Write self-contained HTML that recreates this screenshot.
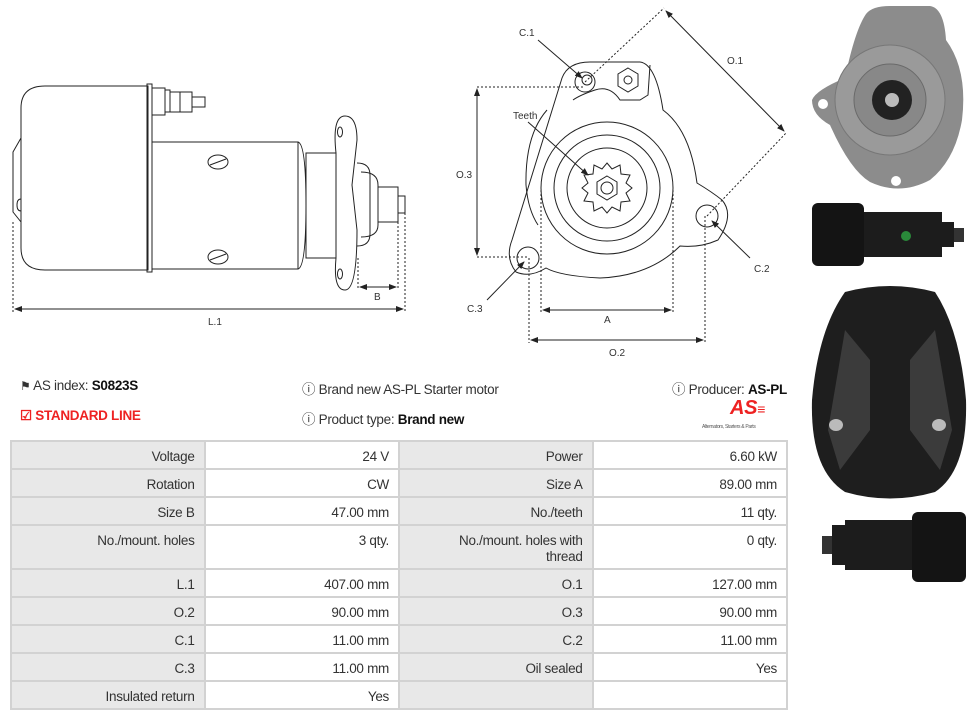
<!DOCTYPE html>
<html><head><meta charset="utf-8"><style>
*{margin:0;padding:0;box-sizing:border-box}
body{width:976px;height:720px;background:#fff;position:relative;overflow:hidden;font-family:"Liberation Sans",sans-serif;color:#333}
.t{position:absolute;font-size:13.5px;white-space:nowrap;letter-spacing:-0.3px}
b{color:#111}
table{position:absolute;left:10px;top:440px;width:778px;border-collapse:collapse;font-size:13.5px;letter-spacing:-0.3px}
td{border:2px solid #d2d2d2;text-align:right;vertical-align:top;padding:7px 9px 0 4px;height:28px;color:#333;line-height:16px}
td.l{background:#e8e8e8;width:194px}
td.v{background:#fff;width:195px}
tr.tall td{height:44px}
</style></head><body>
<svg width="976" height="720" style="position:absolute;left:0;top:0" font-family="Liberation Sans,sans-serif" font-size="10" fill="none" stroke="#222" stroke-width="1">
<defs><marker id="a" markerWidth="8" markerHeight="6" refX="7" refY="3" orient="auto"><path d="M0,0 L8,3 L0,6z" fill="#222" stroke="none"/></marker>
<marker id="s" markerWidth="8" markerHeight="6" refX="1" refY="3" orient="auto"><path d="M8,0 L0,3 L8,6z" fill="#222" stroke="none"/></marker></defs>
<path d="M13,152 L21,138 L21,108 Q21,86 45,86 L148,86 L148,270 L45,270 Q21,270 21,248 L21,222 L13,212 Z"/>
<line x1="21" y1="138" x2="21" y2="222"/>
<path d="M17,205 q0,-6 4,-6 v12 q-4,0 -4,-6z"/>
<rect x="147" y="84" width="5" height="188"/>
<path d="M152,88 h13 v27 h-13"/><rect x="165" y="90" width="5" height="22"/><rect x="170" y="92" width="10" height="20"/><rect x="180" y="92" width="12" height="20"/><path d="M192,97 h13 v10 h-13"/>
<rect x="152" y="142" width="146" height="127"/>
<path d="M298,142 q8,2 8,63 q0,62 -8,64"/>
<rect x="306" y="153" width="30" height="105"/>
<path d="M336,153 Q332,116 345,116 Q357,116 357,140 L352,185 L357,230 Q357,290 345,290 Q333,290 336,258"/>
<ellipse cx="340" cy="132" rx="2.5" ry="5"/><ellipse cx="340" cy="274" rx="2.5" ry="5"/>
<path d="M357,163 Q370,163 370,175 L370,234 Q370,246 357,246"/>
<path d="M361,172 Q378,172 378,185 L378,225 Q378,237 361,237"/>
<rect x="378" y="187" width="20" height="35"/><rect x="398" y="196" width="7" height="17"/>
<ellipse cx="218" cy="162" rx="10" ry="7"/><line x1="210" y1="165" x2="226" y2="159"/>
<ellipse cx="218" cy="257" rx="10" ry="7"/><line x1="210" y1="260" x2="226" y2="254"/>
<g stroke-dasharray="2,2"><line x1="13" y1="222" x2="13" y2="312"/><line x1="405" y1="213" x2="405" y2="312"/><line x1="358" y1="258" x2="358" y2="290"/><line x1="398" y1="222" x2="398" y2="290"/></g>
<line x1="15" y1="309" x2="403" y2="309" marker-start="url(#s)" marker-end="url(#a)"/>
<line x1="360" y1="287" x2="396" y2="287" marker-start="url(#s)" marker-end="url(#a)"/>
<g fill="#333" stroke="none"><text x="374" y="300">B</text><text x="208" y="325">L.1</text></g>
<path d="M512,240 L562,78 Q568,62 590,62 L640,62 Q656,64 663,110 Q690,130 697,183 Q712,192 722,200 Q735,215 718,240 Q700,248 680,246 Q650,276 600,278 Q560,276 546,268 Q530,278 516,272 Q505,258 512,240 Z"/>
<path d="M547,110 Q525,135 526,185 Q528,210 538,225"/>
<path d="M573,100 Q580,95 595,90 Q610,85 620,100 L640,100 L648,95 L650,65"/>
<circle cx="585" cy="82" r="10"/><circle cx="587" cy="80" r="5"/>
<polygon points="628,68 638,74 638,86 628,92 618,86 618,74"/><circle cx="628" cy="80" r="4"/>
<circle cx="707" cy="216" r="11"/><circle cx="528" cy="258" r="11"/>
<circle cx="607" cy="188" r="66"/><circle cx="607" cy="188" r="53"/><circle cx="607" cy="188" r="40"/>
<path d="M607,163 l5,6 8,-4 1,9 9,1 -4,8 6,5 -6,5 4,8 -9,1 -1,9 -8,-4 -5,6 -5,-6 -8,4 -1,-9 -9,-1 4,-8 -6,-5 6,-5 -4,-8 9,-1 1,-9 8,4z"/>
<polygon points="607,176 617,182 617,194 607,200 597,194 597,182"/><circle cx="607" cy="188" r="6"/>
<g stroke-dasharray="2,2"><line x1="477" y1="87" x2="585" y2="87"/><line x1="477" y1="257" x2="528" y2="257"/>
<line x1="585" y1="82" x2="664" y2="8"/><line x1="707" y1="216" x2="787" y2="132"/>
<line x1="541" y1="190" x2="541" y2="312"/><line x1="673" y1="190" x2="673" y2="312"/>
<line x1="529" y1="258" x2="529" y2="343"/><line x1="705" y1="216" x2="705" y2="343"/></g>
<line x1="477" y1="89" x2="477" y2="255" marker-start="url(#s)" marker-end="url(#a)"/>
<line x1="666" y1="11" x2="784" y2="131" marker-start="url(#s)" marker-end="url(#a)"/>
<line x1="543" y1="310" x2="671" y2="310" marker-start="url(#s)" marker-end="url(#a)"/>
<line x1="531" y1="340" x2="703" y2="340" marker-start="url(#s)" marker-end="url(#a)"/>
<line x1="538" y1="40" x2="582" y2="78" marker-end="url(#a)"/>
<line x1="528" y1="122" x2="588" y2="175" marker-end="url(#a)"/>
<line x1="750" y1="258" x2="712" y2="221" marker-end="url(#a)"/>
<line x1="487" y1="300" x2="524" y2="262" marker-end="url(#a)"/>
<g fill="#333" stroke="none"><text x="519" y="36">C.1</text><text x="513" y="119">Teeth</text><text x="727" y="64">O.1</text><text x="456" y="178">O.3</text><text x="754" y="272">C.2</text><text x="467" y="312">C.3</text><text x="604" y="323">A</text><text x="609" y="356">O.2</text></g>
<path d="M866,14 Q872,6 890,6 L930,6 Q944,8 946,40 Q968,70 962,120 Q955,160 930,180 Q900,196 870,182 Q850,170 830,125 Q812,115 812,100 Q816,90 845,78 Q855,30 866,14z" fill="#8c8c8c" stroke="none"/>
<circle cx="890" cy="100" r="55" fill="#9a9a9a" stroke="#777"/><circle cx="890" cy="100" r="36" fill="#888" stroke="#6a6a6a"/>
<circle cx="892" cy="100" r="20" fill="#222" stroke="none"/><circle cx="892" cy="100" r="7" fill="#bbb" stroke="none"/>
<circle cx="823" cy="104" r="5" fill="#fff" stroke="none"/><circle cx="896" cy="181" r="5" fill="#fff" stroke="none"/>
<rect x="812" y="203" width="52" height="63" rx="6" fill="#141414" stroke="none"/>
<rect x="864" y="212" width="78" height="45" fill="#1c1c1c" stroke="none"/>
<rect x="942" y="222" width="12" height="25" fill="#1c1c1c" stroke="none"/><rect x="954" y="228" width="10" height="14" fill="#333" stroke="none"/>
<circle cx="906" cy="236" r="5" fill="#2a8a3a" stroke="none"/>
<path d="M845,292 Q890,280 935,292 Q960,330 966,400 Q968,470 935,492 Q890,505 845,492 Q810,470 812,400 Q818,330 845,292z" fill="#1e1e1e" stroke="none"/>
<path d="M845,330 L870,360 L870,430 L840,470 L828,430 Z M935,330 L910,360 L910,430 L940,470 L952,430 Z" fill="#3b3b3b" stroke="none"/>
<ellipse cx="836" cy="425" rx="7" ry="6" fill="#bbb" stroke="none"/><ellipse cx="939" cy="425" rx="7" ry="6" fill="#bbb" stroke="none"/>
<rect x="912" y="512" width="54" height="70" rx="6" fill="#141414" stroke="none"/>
<rect x="845" y="520" width="67" height="50" fill="#1c1c1c" stroke="none"/>
<rect x="832" y="525" width="13" height="40" fill="#1c1c1c" stroke="none"/><rect x="822" y="536" width="10" height="18" fill="#333" stroke="none"/>
</svg>
<div class="t" style="left:20px;top:378px"><span style="font-size:12px">&#9873;</span> AS index: <b>S0823S</b></div>
<div class="t" style="left:20px;top:408px;color:#e22;font-weight:bold">&#9745; STANDARD LINE</div>
<div class="t" style="left:302px;top:378px">&#9432; Brand new AS-PL Starter motor</div>
<div class="t" style="left:302px;top:408px">&#9432; Product type: <b>Brand new</b></div>
<div class="t" style="left:672px;top:378px">&#9432; Producer: <b>AS-PL</b></div>
<div class="t" style="left:730px;top:397px;color:#e22;font-weight:bold;font-style:italic;font-size:20px">AS<span style="font-size:14px">&#8801;</span></div>
<div class="t" style="left:702px;top:424px;font-size:5px;color:#555">Alternators, Starters &amp; Parts</div>
<table>
<tr><td class="l">Voltage</td><td class="v">24 V</td><td class="l">Power</td><td class="v">6.60 kW</td></tr>
<tr><td class="l">Rotation</td><td class="v">CW</td><td class="l">Size A</td><td class="v">89.00 mm</td></tr>
<tr><td class="l">Size B</td><td class="v">47.00 mm</td><td class="l">No./teeth</td><td class="v">11 qty.</td></tr>
<tr class="tall"><td class="l">No./mount. holes</td><td class="v">3 qty.</td><td class="l">No./mount. holes with<br>thread</td><td class="v">0 qty.</td></tr>
<tr><td class="l">L.1</td><td class="v">407.00 mm</td><td class="l">O.1</td><td class="v">127.00 mm</td></tr>
<tr><td class="l">O.2</td><td class="v">90.00 mm</td><td class="l">O.3</td><td class="v">90.00 mm</td></tr>
<tr><td class="l">C.1</td><td class="v">11.00 mm</td><td class="l">C.2</td><td class="v">11.00 mm</td></tr>
<tr><td class="l">C.3</td><td class="v">11.00 mm</td><td class="l">Oil sealed</td><td class="v">Yes</td></tr>
<tr><td class="l">Insulated return</td><td class="v">Yes</td><td class="l"></td><td class="v"></td></tr>
</table>
</body></html>
